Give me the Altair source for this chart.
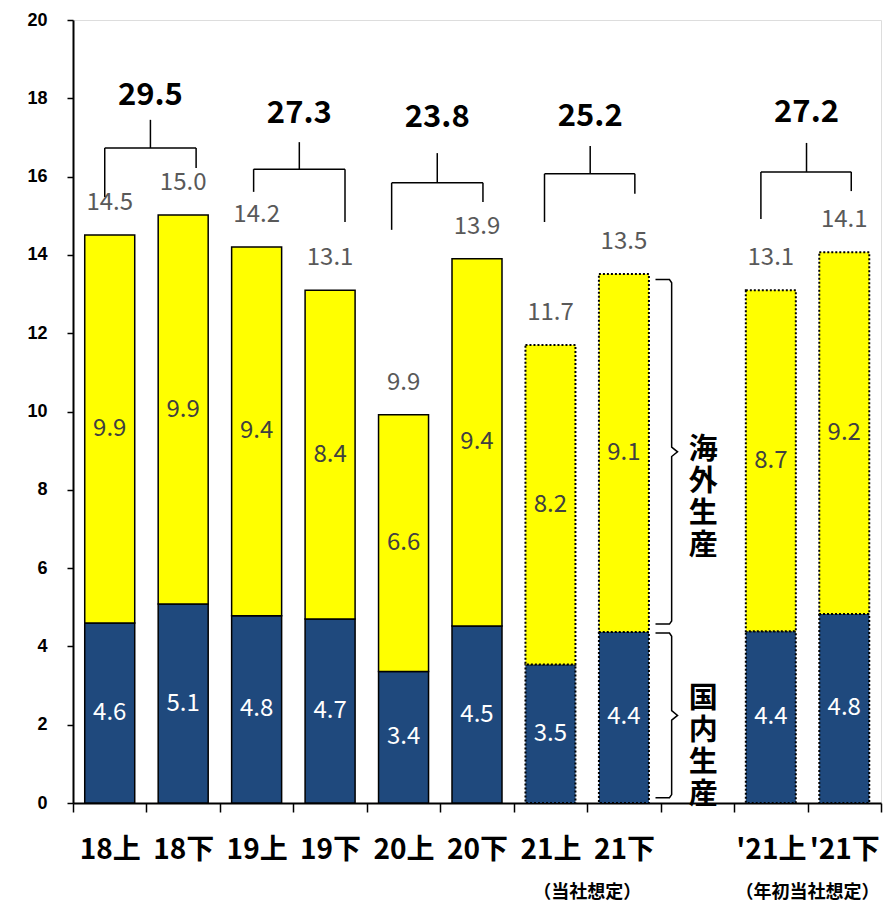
import altair as alt
import pandas as pd

FONT = "Noto Sans CJK JP"

# ---- data ----
slots = ["18上", "18下", "19上", "19下", "20上", "20下", "21上", "21下", " ", "'21上", "'21下"]
periods = ["18上", "18下", "19上", "19下", "20上", "20下", "21上", "21下", "'21上", "'21下"]
domestic = [4.60, 5.08, 4.78, 4.70, 3.36, 4.52, 3.54, 4.37, 4.39, 4.83]
overseas = [9.91, 9.94, 9.42, 8.40, 6.56, 9.38, 8.16, 9.14, 8.71, 9.24]
is_forecast = [False, False, False, False, False, False, True, True, True, True]

annual_totals = [29.5, 27.3, 23.8, 25.2, 27.2]

# bracket annotation geometry (x in slot units, y in value units)
br_left_x = [0.432, 2.459, 4.338, 6.419, 9.365]
br_right_x = [1.676, 3.703, 5.581, 7.649, 10.595]
br_mid_x = [1.054, 3.081, 4.959, 7.041, 9.986]
br_bar_y = [16.73, 16.19, 15.84, 16.07, 16.12]
br_left_bottom = [15.48, 15.61, 14.64, 14.84, 14.92]
br_right_bottom = [16.22, 14.84, 15.35, 15.56, 15.63]
br_mid_top = [17.45, 16.88, 16.60, 16.78, 16.86]
br_label_y = [18.06, 17.60, 17.49, 17.52, 17.62]

brace_names = ["海\n外\n生\n産", "国\n内\n生\n産"]
brace_top = [13.37, 4.34]
brace_bottom = [4.57, 0.135]
brace_text_y = [9.01, 2.66]

notes = ["（当社想定）", "（年初当社想定）"]
note_x = [7.0, 10.0]
note_y = [-2.30, -2.30]

y_ticks = [0, 2, 4, 6, 8, 10, 12, 14, 16, 18, 20]

# ---- tables ----
rows = []
for p, d, o, f in zip(periods, domestic, overseas, is_forecast):
    rows.append(dict(period=p, seg="domestic", y0=0.0, y1=d, mid=d / 2, val=d, total=d + o, forecast=f))
    rows.append(dict(period=p, seg="overseas", y0=d, y1=d + o, mid=d + o / 2, val=o, total=d + o, forecast=f))
bars = pd.DataFrame(rows)
tops = bars[bars.seg == "overseas"]

seg_rows = []
for i in range(len(annual_totals)):
    seg_rows.append(dict(x=br_left_x[i], x2=br_right_x[i], y=br_bar_y[i], y2=br_bar_y[i]))
    seg_rows.append(dict(x=br_left_x[i], x2=br_left_x[i], y=br_bar_y[i], y2=br_left_bottom[i]))
    seg_rows.append(dict(x=br_right_x[i], x2=br_right_x[i], y=br_bar_y[i], y2=br_right_bottom[i]))
    seg_rows.append(dict(x=br_mid_x[i], x2=br_mid_x[i], y=br_bar_y[i], y2=br_mid_top[i]))
brackets = pd.DataFrame(seg_rows)
pair_labels = pd.DataFrame(dict(x=br_mid_x, y=br_label_y, v=annual_totals))

xh, xv, xt = 7.93, 8.15, 8.23
brace_pts = []
for b in range(2):
    t, bt = brace_top[b], brace_bottom[b]
    m = (t + bt) / 2
    pts = [(xh, t), (xv - 0.03, t), (xv, t - 0.08), (xv, m + 0.12), (xt, m),
           (xv, m - 0.12), (xv, bt + 0.08), (xv - 0.03, bt), (xh, bt)]
    for k, (px, py) in enumerate(pts):
        brace_pts.append(dict(b=b, k=k, x=px, y=py))
brace_df = pd.DataFrame(brace_pts)
brace_txt = pd.DataFrame(dict(t=brace_names, y=brace_text_y, x=[8.58, 8.58]))
notes_df = pd.DataFrame(dict(t=notes, x=note_x, y=note_y))

# ---- scales / axes ----
yscale = alt.Scale(domain=[0, 20], nice=False, zero=False)
yaxis = alt.Axis(values=y_ticks, title=None, grid=False,
                 labelFontSize=18, labelFontWeight="bold", labelColor="black",
                 labelFont="Liberation Sans",
                 tickSize=6, tickColor="black", tickWidth=1.5, domainColor="black",
                 domainWidth=2, labelPadding=20)

def Y(field):
    return alt.Y(field, type="quantitative", scale=yscale, axis=yaxis)

xband = alt.X("period:N", sort=slots,
              scale=alt.Scale(domain=slots, paddingInner=0, paddingOuter=0),
              axis=alt.Axis(title=None, labelAngle=0, labelFontSize=28, labelFontWeight="bold",
                            labelColor="black", labelFont=FONT, tickBand="extent", tickSize=9,
                            tickColor="black", tickWidth=1.5, domainColor="black",
                            domainWidth=2, labelPadding=24))

xq_scale = alt.Scale(domain=[0, 11], nice=False, zero=False)
def XQ(field="x"):
    return alt.X(field, type="quantitative", scale=xq_scale, axis=None)

color = alt.Color("seg:N", scale=alt.Scale(domain=["domestic", "overseas"],
                                           range=["#1F497D", "#FFFF00"]), legend=None)

base = alt.Chart(bars)
solid = base.transform_filter("!datum.forecast").mark_bar(
    width=50, stroke="black", strokeWidth=1.5).encode(x=xband, y=Y("y0"), y2="y1", color=color)
dotted = base.transform_filter("datum.forecast").mark_bar(
    width=50, stroke="black", strokeWidth=2, strokeDash=[2, 2]).encode(
    x=xband, y=Y("y0"), y2="y1", color=color)

in_dom = base.transform_filter("datum.seg == 'domestic'").mark_text(
    fontSize=24, font=FONT, color="white", baseline="middle").encode(
    x=xband, y=Y("mid"), text=alt.Text("val:Q", format=".1f"))
in_ovs = base.transform_filter("datum.seg == 'overseas'").mark_text(
    fontSize=24, font=FONT, color="#404040", baseline="middle").encode(
    x=xband, y=Y("mid"), text=alt.Text("val:Q", format=".1f"))
tot_txt = alt.Chart(tops).mark_text(
    fontSize=24, font=FONT, color="#595959", baseline="middle", dy=-32).encode(
    x=xband, y=Y("total"), text=alt.Text("total:Q", format=".1f"))

group_bars = alt.layer(solid, dotted, in_dom, in_ovs, tot_txt)

br = alt.Chart(brackets).mark_rule(color="black", strokeWidth=1.5).encode(
    x=XQ("x"), x2="x2", y=Y("y"), y2="y2")
pl = alt.Chart(pair_labels).mark_text(fontSize=31, fontWeight="bold", font=FONT,
                                      color="black", baseline="middle").encode(
    x=XQ("x"), y=Y("y"), text=alt.Text("v:Q", format=".1f"))
brace = alt.Chart(brace_df).mark_line(color="black", strokeWidth=1.5).encode(
    x=XQ("x"), y=Y("y"), detail="b:N", order="k:Q")
brace_t = alt.Chart(brace_txt).mark_text(fontSize=29, fontWeight="bold", font=FONT,
                                         color="black", baseline="middle", lineBreak="\n",
                                         lineHeight=32).encode(
    x=XQ("x"), y=Y("y"), text="t:N")
notes_t = alt.Chart(notes_df).mark_text(fontSize=18, fontWeight="bold", font=FONT,
                                        color="black", baseline="middle").encode(
    x=XQ("x"), y=Y("y"), text="t:N")

group_ann = alt.layer(br, pl, brace, brace_t, notes_t)

chart = alt.layer(group_bars, group_ann).resolve_scale(x="independent").properties(
    width=808, height=783,
    padding={"left": 65, "top": 12, "right": 2, "bottom": 103},
    autosize=alt.AutoSizeParams(type="none"),
).configure_view(stroke="black", strokeWidth=2).configure(background="white")

chart.save("out.html", embed_options={"renderer": "svg", "actions": False})
